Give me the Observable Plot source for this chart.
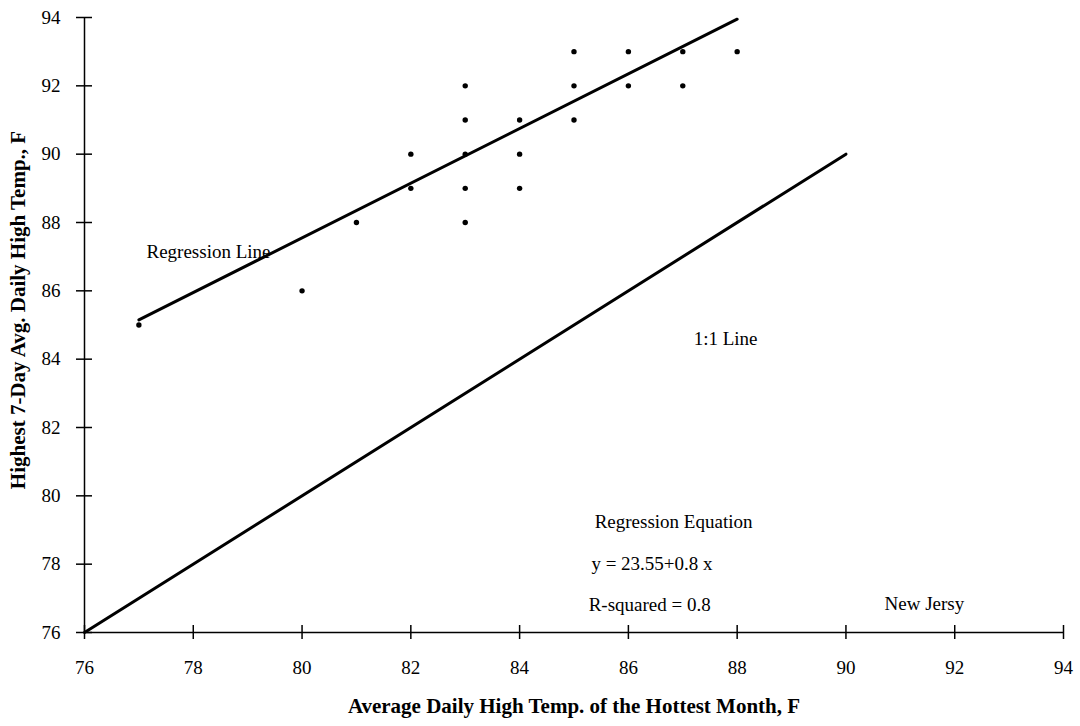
<!DOCTYPE html>
<html><head><meta charset="utf-8">
<script src="https://cdn.jsdelivr.net/npm/d3@7"></script>
<script src="https://cdn.jsdelivr.net/npm/@observablehq/plot@0.6"></script>
<style>body{margin:0;background:#fff}</style>
</head><body><div id="chart"></div>
<script>
const xTicks = [76,78,80,82,84,86,88,90,92,94];
const yTicks = [76,78,80,82,84,86,88,90,92,94];
const obsX = [77,80,81,82,82,83,83,83,83,83,84,84,84,85,85,85,86,86,87,87,88];
const obsY = [85,86,88,89,90,88,89,90,91,92,89,90,91,91,92,93,92,93,92,93,93];
const regX = [77,88];
const regY = [85.15,93.95];
const oneX = [76,90];
const oneY = [76,90];
const notes = [
  {x:77.14, y:87.15, t:"Regression Line"},
  {x:87.2, y:84.6, t:"1:1 Line"},
  {x:85.38, y:79.25, t:"Regression Equation"},
  {x:85.32, y:78.0, t:"y = 23.55+0.8 x"},
  {x:85.27, y:76.8, t:"R-squared = 0.8"},
  {x:90.71, y:76.85, t:"New Jersy"}
];
const xTitle = "Average Daily High Temp. of the Hottest Month, F";
const yTitle = "Highest 7-Day Avg. Daily High Temp., F";

const pts = obsX.map((x,i)=>({x, y: obsY[i]}));
const reg = regX.map((x,i)=>({x, y: regY[i]}));
const one = oneX.map((x,i)=>({x, y: oneY[i]}));

const chart = Plot.plot({
  width: 1080, height: 726,
  marginLeft: 84, marginRight: 17, marginTop: 17, marginBottom: 94,
  style: {fontFamily: "'Liberation Serif', serif", fontSize: "19px", color: "#000", background: "#fff"},
  x: {domain: [76,94]},
  y: {domain: [76,94]},
  marks: [
    Plot.axisX({ticks: xTicks, tickSize: 0, tickPadding: 28, label: null, fontSize: 19}),
    Plot.axisY({ticks: yTicks, tickSize: 0, tickPadding: 24, label: null, fontSize: 19}),
    Plot.ruleY([76], {x1: 76, x2: 94, stroke: "#000", strokeWidth: 1.5}),
    Plot.ruleX([76], {y1: 76, y2: 94, stroke: "#000", strokeWidth: 1.5}),
    Plot.ruleX(xTicks, {x: d=>d, y1: 76, y2: 76, insetTop: -7, insetBottom: -7, stroke: "#000", strokeWidth: 1.5}),
    Plot.ruleY(yTicks, {y: d=>d, x1: 76, x2: 76, insetLeft: -8, insetRight: -8, stroke: "#000", strokeWidth: 1.5}),
    Plot.line(one, {x: "x", y: "y", stroke: "#000", strokeWidth: 3}),
    Plot.line(reg, {x: "x", y: "y", stroke: "#000", strokeWidth: 3}),
    Plot.dot(pts, {x: "x", y: "y", r: 2.7, fill: "#000", stroke: null}),
    Plot.text(notes, {x: "x", y: "y", text: "t", textAnchor: "start", fontSize: 19, fill: "#000"}),
    Plot.text([xTitle], {frameAnchor: "bottom", dy: 80, fontWeight: "bold", fontSize: 21, fill: "#000"}),
    Plot.text([yTitle], {frameAnchor: "left", textAnchor: "middle", dx: -66, dy: -15, rotate: -90, fontWeight: "bold", fontSize: 21, fill: "#000"})
  ]
});
document.getElementById("chart").appendChild(chart);
</script></body></html>
